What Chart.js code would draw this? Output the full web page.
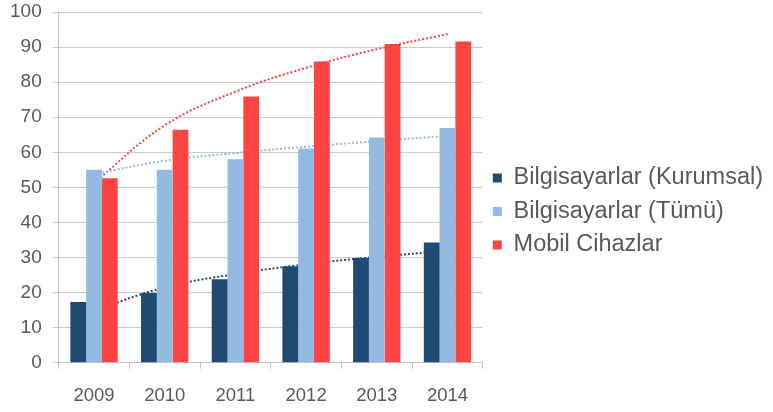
<!DOCTYPE html>
<html>
<head>
<meta charset="utf-8">
<script src="https://cdn.jsdelivr.net/npm/chart.js@4"></script>
<style>
	html, body { margin: 0; padding: 0; background: #ffffff; }
	#wrap { width: 773px; height: 412px; }
</style>
</head>
<body>
<div id="wrap"><canvas id="grafico" width="773" height="412"></canvas></div>
<script>
const yillar = ["2009", "2010", "2011", "2012", "2013", "2014"];
const kurumsal = [17.3, 19.9, 23.8, 27.5, 29.9, 34.3];
const tumu = [55.0, 55.0, 58.0, 61.1, 64.2, 66.9];
const mobil = [52.6, 66.4, 75.9, 85.9, 90.9, 91.6];

// egilim cizgileri
const kurumsalEgilim = [14.9, 21.5, 25.3, 28.1, 30.2, 31.9];
const tumuEgilim = [53.8, 57.6, 59.8, 61.6, 63.2, 64.7];
const mobilEgilim = [51.3, 67.7, 77.3, 84.1, 89.4, 93.7];

const koyuMavi = "#1f4a73";
const acikMavi = "#95bae1";
const kirmizi = "#ff4444";
const yaziRengi = "#595959";

const trend = (veri, renk) => ({
	type: "line",
	data: veri,
	borderColor: renk,
	borderWidth: 2,
	borderDash: [2, 2],
	pointRadius: 0,
	tension: 0.4,
	fill: false
});

new Chart(document.getElementById("grafico").getContext("2d"), {
	type: "bar",
	data: {
		labels: yillar,
		datasets: [
			{ label: "Bilgisayarlar (Kurumsal)", data: kurumsal, backgroundColor: koyuMavi, barPercentage: 1, categoryPercentage: 0.67 },
			{ label: "Bilgisayarlar (Tümü)", data: tumu, backgroundColor: acikMavi, barPercentage: 1, categoryPercentage: 0.67 },
			{ label: "Mobil Cihazlar", data: mobil, backgroundColor: kirmizi, barPercentage: 1, categoryPercentage: 0.67 },
			Object.assign(trend(kurumsalEgilim, koyuMavi), { label: "t1" }),
			Object.assign(trend(tumuEgilim, acikMavi), { label: "t2" }),
			Object.assign(trend(mobilEgilim, kirmizi), { label: "t3" })
		]
	},
	options: {
		responsive: false,
		animation: false,
		layout: { padding: { top: 0, left: -1, right: 0, bottom: -11 } },
		plugins: {
			tooltip: { enabled: false },
			legend: {
				position: "right",
				maxWidth: 300,
				labels: {
					filter: item => !item.text.startsWith("t"),
					boxWidth: 9,
					boxHeight: 9,
					padding: 10,
					color: yaziRengi,
					font: { family: "Liberation Sans, Arial", size: 23.5 }
				}
			}
		},
		scales: {
			x: {
				grid: { display: true, drawOnChartArea: false, offset: true, color: "#bfbfbf", tickLength: 6 },
				border: { color: "#bfbfbf" },
				ticks: { color: yaziRengi, padding: 16, font: { family: "Liberation Sans, Arial", size: 18.5 } }
			},
			y: {
				min: 0,
				max: 100,
				ticks: { stepSize: 10, color: yaziRengi, padding: 11, font: { family: "Liberation Sans, Arial", size: 19 } },
				grid: { color: "#cccccc", tickLength: 6 },
				border: { color: "#bfbfbf" },
				// ust bosluk: sadece etiketin yarisi kadar
				afterFit: s => { s.paddingTop = 12; }
			}
		}
	}
});
</script>
</body>
</html>
